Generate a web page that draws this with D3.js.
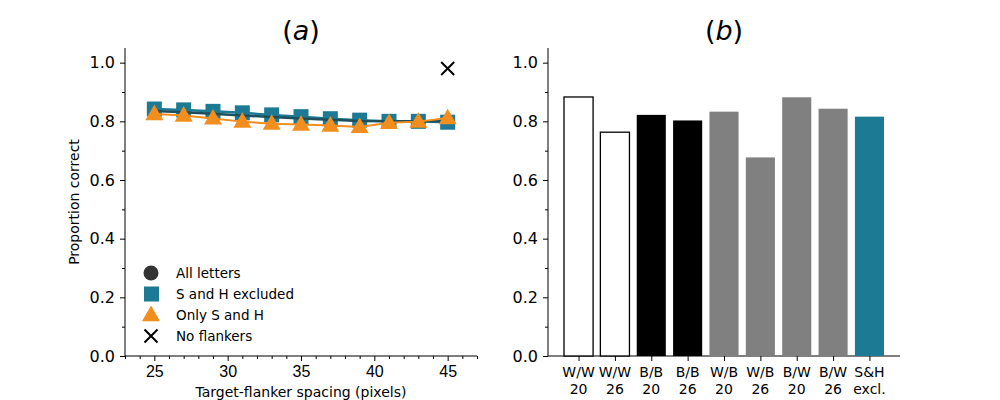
<!DOCTYPE html>
<html><head><meta charset="utf-8">
<script src="https://cdn.jsdelivr.net/npm/d3@7"></script>
<style>body{margin:0;background:#fff}svg{font-family:"DejaVu Sans",sans-serif}</style>
</head><body><svg id="c" width="1000" height="400"></svg>
<script>
const spacing = [25,27,29,31,33,35,37,39,41,43,45];
const allLetters = [0.835,0.831,0.826,0.820,0.815,0.810,0.805,0.801,0.800,0.800,0.800];
const shExcluded = [0.842,0.839,0.834,0.829,0.822,0.816,0.809,0.804,0.800,0.800,0.797];
const onlySH = [0.825,0.820,0.810,0.799,0.792,0.789,0.786,0.781,0.795,0.799,0.811];
const noFlankersX = [45];
const noFlankers = [0.98];
const xTicksA = [25,30,35,40,45];
const yTicks = [0,0.2,0.4,0.6,0.8,1.0];
const barCats = [["W/W","20"],["W/W","26"],["B/B","20"],["B/B","26"],["W/B","20"],["W/B","26"],["B/W","20"],["B/W","26"],["S&H","excl."]];
const barVals = [0.883,0.763,0.822,0.803,0.833,0.677,0.882,0.843,0.816];
const barKind = ["white","white","black","black","gray","gray","gray","gray","teal"];
const legendLabels = ["All letters","S and H excluded","Only S and H","No flankers"];

const TEAL="#1d7a94", ORANGE="#f28e1e", DARK="#333333", LINEDARK="#1d4f5e", GRAY="#808080";
const svg = d3.select("#c");

function yAxisDraw(g, y, x0){
  const ax = g.append("g").attr("transform",`translate(${x0},0)`)
    .call(d3.axisLeft(y).tickValues(yTicks).tickFormat(d3.format(".1f")).tickSize(5).tickPadding(5));
  ax.select(".domain").remove();
  ax.selectAll("text").attr("font-size",16).attr("fill","#000").attr("font-family","DejaVu Sans");
  const mn = g.append("g").attr("transform",`translate(${x0},0)`)
    .call(d3.axisLeft(y).tickValues([0.1,0.3,0.5,0.7,0.9]).tickFormat("").tickSize(3));
  mn.select(".domain").remove();
  g.append("line").attr("x1",x0).attr("x2",x0).attr("y1",y.range()[0]).attr("y2",y.range()[1]).attr("stroke","#000").attr("stroke-width",1);
}

// Panel a
const xa = d3.scaleLinear().domain([23,47]).range([125,477]);
const y = d3.scaleLinear().domain([0,1.05]).range([356,48]);
const ga = svg.append("g");
yAxisDraw(ga, y, 125);
const xaAx = ga.append("g").attr("transform","translate(0,356)")
  .call(d3.axisBottom(xa).tickValues(xTicksA).tickFormat(d3.format("d")).tickSize(5).tickPadding(5));
xaAx.select(".domain").remove();
xaAx.selectAll("text").attr("font-size",16).attr("fill","#000");
const mna = ga.append("g").attr("transform","translate(0,356)")
  .call(d3.axisBottom(xa).tickValues(d3.range(23,48).filter(v=>v%5!==0)).tickFormat("").tickSize(3));
mna.select(".domain").remove();
ga.append("line").attr("x1",125).attr("x2",477).attr("y1",356).attr("y2",356).attr("stroke","#000");

const line = d3.line().x((d,i)=>xa(spacing[i])).y(d=>y(d));
ga.append("path").datum(shExcluded).attr("d",line).attr("fill","none").attr("stroke",TEAL).attr("stroke-width",2.5);
ga.selectAll(".sq").data(shExcluded).join("rect").attr("x",(d,i)=>xa(spacing[i])-7.5).attr("y",d=>y(d)-7.5)
  .attr("width",15).attr("height",15).attr("fill",TEAL);
ga.append("path").datum(allLetters).attr("d",line).attr("fill","none").attr("stroke",LINEDARK).attr("stroke-width",2.5);
const tri = d3.symbol().type(d3.symbolTriangle).size(140);
ga.append("path").datum(onlySH).attr("d",line).attr("fill","none").attr("stroke",ORANGE).attr("stroke-width",2);
ga.selectAll(".tr").data(onlySH).join("path").attr("d",tri).attr("transform",(d,i)=>`translate(${xa(spacing[i])},${y(d)+1})`).attr("fill",ORANGE);
const crossPath = "M-6.5,-6.5L6.5,6.5M-6.5,6.5L6.5,-6.5";
ga.selectAll(".x").data(noFlankers).join("path").attr("d",crossPath)
  .attr("transform",(d,i)=>`translate(${xa(noFlankersX[i])},${y(d)})`).attr("stroke","#000").attr("stroke-width",2).attr("fill","none");

ga.append("text").attr("x",301).attr("y",397).attr("text-anchor","middle").attr("font-size",14).text("Target-flanker spacing (pixels)");
ga.append("text").attr("transform","translate(79,202) rotate(-90)").attr("text-anchor","middle").attr("font-size",14).text("Proportion correct");
const ta = ga.append("text").attr("x",301).attr("y",40).attr("text-anchor","middle").attr("font-size",27);
ta.append("tspan").text("(");ta.append("tspan").attr("font-style","italic").text("a");ta.append("tspan").text(")");

// Legend
const lg = ga.append("g");
const ly = [273,294,315,336];
lg.append("circle").attr("cx",151).attr("cy",ly[0]).attr("r",7.5).attr("fill",DARK);
lg.append("rect").attr("x",144).attr("y",ly[1]-7.5).attr("width",15).attr("height",15).attr("fill",TEAL);
lg.append("path").attr("d",tri).attr("transform",`translate(151,${ly[2]+1})`).attr("fill",ORANGE);
lg.append("path").attr("d",crossPath).attr("transform",`translate(151,${ly[3]})`).attr("stroke","#000").attr("stroke-width",2);
lg.selectAll("text").data(legendLabels).join("text").attr("x",176).attr("y",(d,i)=>ly[i]+5).attr("font-size",13.5).text(d=>d);

// Panel b
const xb = d3.scaleLinear().domain([-0.84,8.84]).range([548,900]);
const gb = svg.append("g");
yAxisDraw(gb, y, 548);
gb.append("line").attr("x1",548).attr("x2",900).attr("y1",356).attr("y2",356).attr("stroke","#000");
const bw = xb(0.8)-xb(0);
const fills = {white:"#fff",black:"#000",gray:GRAY,teal:TEAL};
gb.selectAll(".bar").data(barVals).join("rect")
  .attr("x",(d,i)=>xb(i)-bw/2).attr("y",d=>y(d)).attr("width",bw).attr("height",d=>y(0)-y(d))
  .attr("fill",(d,i)=>fills[barKind[i]])
  .attr("stroke",(d,i)=>barKind[i]==="white"?"#000":"none").attr("stroke-width",1.3);
const bAx = gb.append("g").attr("transform","translate(0,356)")
  .call(d3.axisBottom(xb).tickValues(d3.range(barCats.length)).tickFormat("").tickSize(5));
bAx.select(".domain").remove();
barCats.forEach((c,i)=>{
  const t = gb.append("text").attr("x",xb(i)).attr("y",377).attr("text-anchor","middle").attr("font-size",14);
  t.append("tspan").attr("x",xb(i)).text(c[0]);
  t.append("tspan").attr("x",xb(i)).attr("dy",17).text(c[1]);
});
const tb = gb.append("text").attr("x",724).attr("y",40).attr("text-anchor","middle").attr("font-size",27);
tb.append("tspan").text("(");tb.append("tspan").attr("font-style","italic").text("b");tb.append("tspan").text(")");
</script></body></html>
